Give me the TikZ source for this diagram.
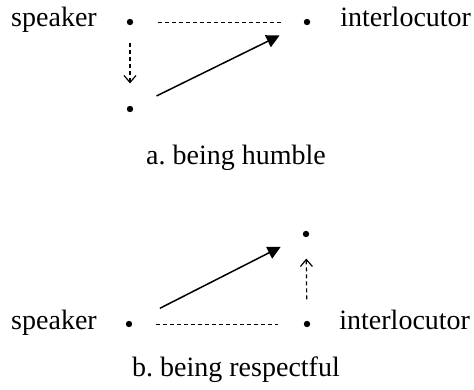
\documentclass[tikz,border=0pt]{standalone}
\usepackage{fontspec}
\setmainfont{Liberation Serif}
\usetikzlibrary{arrows.meta}
\frenchspacing

\tikzset{
  pt/.style = {circle, fill, inner sep=0pt, minimum size=3.2pt},
  lbl/.style = {inner sep=0pt, anchor=base, font=\fontsize{14}{16}\selectfont},
  link/.style = {dash pattern=on 2pt off 1.5pt, line width=0.45pt},
  stepdir/.style = {dash pattern=on 2pt off 1.5pt, line width=0.6pt,
    -{Straight Barb[length=3.5pt,width=6pt]}},
  move/.style = {line width=0.75pt, -{Triangle[length=6.5pt,width=6.5pt]}}
}

\begin{document}
\begin{tikzpicture}[x=0.5pt, y=-0.5pt]
  \useasboundingbox (0,0) rectangle (474,389);

  % a. humble: the speaker steps down
  \node[lbl] (spka) at (54,27) {speaker};
  \node[pt] (sa) at (130,22) {};
  \node[pt] (ia) at (307,22) {};
  \node[lbl, anchor=base west] (inta) at (340,27) {interlocutor};
  \node[pt] (la) at (130,109) {};
  \draw[link, shorten <=12pt, shorten >=11pt] (sa) -- (ia);
  \draw[stepdir, shorten <=8.5pt, shorten >=11pt] (sa) -- (la);
  \draw[move, shorten <=13pt, shorten >=13.5pt] (la) -- (ia);
  \node[lbl] (capa) at (236,165) {a. being humble};

  % b. respectful: the interlocutor is raised
  \node[lbl] (spkb) at (54,329) {speaker};
  \node[pt] (sb) at (129,324) {};
  \node[pt] (ib) at (307,324) {};
  \node[lbl, anchor=base west] (intb) at (339,329) {interlocutor};
  \node[pt] (hb) at (306,234) {};
  \draw[link, shorten <=11.5pt, shorten >=12.5pt] (sb) -- (ib);
  \draw[stepdir, shorten <=10.5pt, shorten >=10.5pt] (ib) -- (hb);
  \draw[move, shorten <=15.5pt, shorten >=12.4pt] (sb) -- (hb);
  \node[lbl] (capb) at (236,376) {b. being respectful};
\end{tikzpicture}
\end{document}
